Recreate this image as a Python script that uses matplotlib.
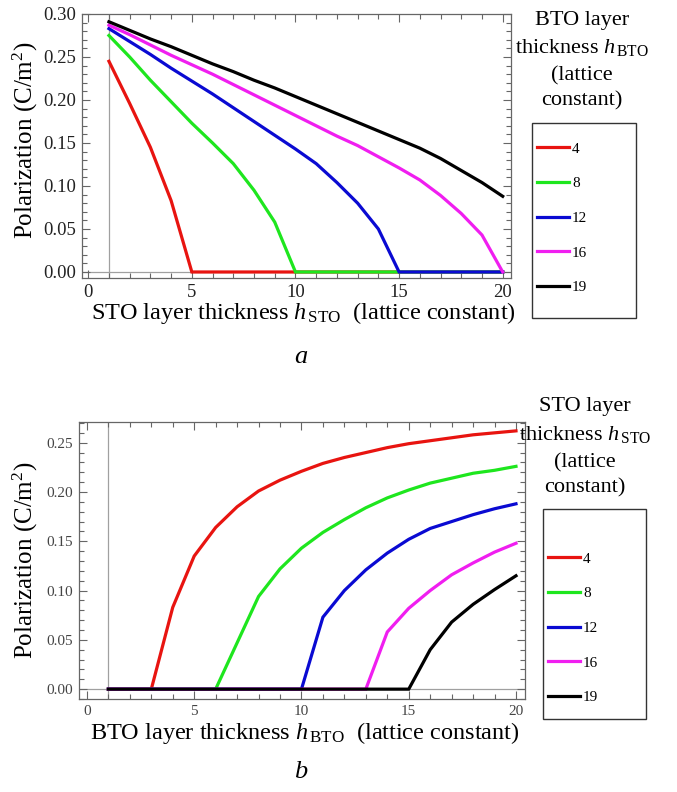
import matplotlib
matplotlib.use('Agg')
import matplotlib.pyplot as plt
from matplotlib.ticker import MultipleLocator, FormatStrFormatter
from matplotlib.patches import Rectangle

plt.rcParams['font.family'] = ['Liberation Serif', 'DejaVu Serif']
plt.rcParams['mathtext.fontset'] = 'custom'
plt.rcParams['mathtext.rm'] = 'Liberation Serif'
plt.rcParams['mathtext.it'] = 'Liberation Serif:italic'

# thickness in lattice constants
thick = list(range(1, 21))

# panel a: P vs STO thickness, one curve per BTO thickness
bto_labels = ['4', '8', '12', '16', '19']
pa_4 = [0.245, 0.196, 0.145, 0.083, 0, 0, 0, 0, 0, 0, 0, 0, 0, 0, 0, 0, 0, 0, 0, 0]
pa_8 = [0.275, 0.250, 0.223, 0.198, 0.173, 0.150, 0.126, 0.095, 0.058, 0,
        0, 0, 0, 0, 0, 0, 0, 0, 0, 0]
pa_12 = [0.283, 0.268, 0.253, 0.237, 0.222, 0.207, 0.191, 0.175, 0.159, 0.143,
         0.126, 0.104, 0.080, 0.050, 0, 0, 0, 0, 0, 0]
pa_16 = [0.287, 0.276, 0.264, 0.252, 0.241, 0.230, 0.218, 0.206, 0.194, 0.182,
         0.170, 0.158, 0.147, 0.134, 0.121, 0.107, 0.089, 0.068, 0.043, 0]
pa_19 = [0.291, 0.281, 0.271, 0.262, 0.252, 0.242, 0.233, 0.223, 0.214, 0.204,
         0.194, 0.184, 0.174, 0.164, 0.154, 0.144, 0.132, 0.118, 0.104, 0.088]

# panel b: P vs BTO thickness, one curve per STO thickness
sto_labels = ['4', '8', '12', '16', '19']
pb_4 = [0, 0, 0, 0.083, 0.135, 0.164, 0.185, 0.201, 0.212, 0.221,
        0.229, 0.235, 0.240, 0.245, 0.249, 0.252, 0.255, 0.258, 0.260, 0.262]
pb_8 = [0, 0, 0, 0, 0, 0, 0.047, 0.094, 0.122, 0.143,
        0.159, 0.172, 0.184, 0.194, 0.202, 0.209, 0.214, 0.219, 0.222, 0.226]
pb_12 = [0, 0, 0, 0, 0, 0, 0, 0, 0, 0,
         0.073, 0.100, 0.121, 0.138, 0.152, 0.163, 0.170, 0.177, 0.183, 0.188]
pb_16 = [0, 0, 0, 0, 0, 0, 0, 0, 0, 0,
         0, 0, 0, 0.058, 0.082, 0.100, 0.116, 0.128, 0.139, 0.148]
pb_19 = [0, 0, 0, 0, 0, 0, 0, 0, 0, 0,
         0, 0, 0, 0, 0, 0.040, 0.068, 0.086, 0.101, 0.115]

colors = ['#e81410', '#1ee61e', '#0a0ad2', '#f01ef0', '#000000']

W, H = 677, 792
fig = plt.figure(figsize=(W / 100, H / 100), dpi=100)


def px_box(l, t, r, b):
    return [l / W, 1 - b / H, (r - l) / W, (b - t) / H]


def style_axes(ax, xlim, ylim, tick_fs, tick_col):
    ax.set_xlim(*xlim)
    ax.set_ylim(*ylim)
    ax.axvline(1, color='#a0a0a0', lw=0.9, zorder=0)
    ax.axhline(0, color='#a0a0a0', lw=0.9, zorder=0)
    ax.xaxis.set_major_locator(MultipleLocator(5))
    ax.xaxis.set_minor_locator(MultipleLocator(1))
    ax.yaxis.set_major_locator(MultipleLocator(0.05))
    ax.yaxis.set_minor_locator(MultipleLocator(0.01))
    ax.yaxis.set_major_formatter(FormatStrFormatter('%.2f'))
    ax.tick_params(which='both', direction='in', top=True, right=True,
                   color='#666666', width=0.8)
    ax.tick_params(which='major', length=6, labelsize=tick_fs, labelcolor=tick_col,
                   pad=4)
    ax.tick_params(which='minor', length=3.5)
    for s in ax.spines.values():
        s.set_color('#666666')
        s.set_linewidth(0.9)


def legend_box(handles, labels, box, first_y, title_lines, title_x):
    l, t, r, b = box
    fig.add_artist(Rectangle((l / W, 1 - b / H), (r - l) / W, (b - t) / H,
                             transform=fig.transFigure, fill=False,
                             edgecolor='#333333', lw=1.0))
    fig.legend(handles, labels, loc='upper left',
               bbox_to_anchor=((l + 5) / W, 1 - (first_y - 7) / H),
               frameon=False, fontsize=11, handlelength=2.1,
               handletextpad=0.2, labelspacing=1.37, borderpad=0,
               borderaxespad=0)
    for txt, y in title_lines:
        fig.text(title_x, 1 - y / H, txt, ha='center', va='center', fontsize=16)


# ---- panel a ----
axa = fig.add_axes(px_box(82, 14, 511, 278))
lines_a = []
for ys, c in zip([pa_4, pa_8, pa_12, pa_16, pa_19], colors):
    ln, = axa.plot(thick, ys, color=c, lw=2.3, solid_joinstyle='miter')
    lines_a.append(ln)
style_axes(axa, (-0.3, 20.4), (-0.007, 0.30), 13.5, '#222222')
axa.set_ylabel('Polarization (C/m$^2$)', fontsize=18)
axa.yaxis.set_label_coords(-0.097, 0.52)
axa.set_xlabel(r'STO layer thickness $h_{\,\mathrm{STO}}$  (lattice constant)',
               fontsize=17.5, labelpad=2)
axa.xaxis.set_label_coords(0.515, -0.085)
fig.text(301 / W, 1 - 357 / H, 'a', ha='center', va='center', fontsize=19,
         style='italic')
legend_box(lines_a, bto_labels, (532, 123, 636, 318), 149,
           [('BTO layer', 20), (r'thickness $h_{\,\mathrm{BTO}}$', 48),
            ('(lattice', 76), ('constant)', 101)], 582 / W)

# ---- panel b ----
axb = fig.add_axes(px_box(79, 422, 525, 699))
lines_b = []
for ys, c in zip([pb_4, pb_8, pb_12, pb_16, pb_19], colors):
    ln, = axb.plot(thick, ys, color=c, lw=2.3, solid_joinstyle='miter')
    lines_b.append(ln)
style_axes(axb, (-0.37, 20.42), (-0.010, 0.271), 11, '#444444')
axb.set_ylabel('Polarization (C/m$^2$)', fontsize=18, labelpad=5)
axb.set_xlabel(r'BTO layer thickness $h_{\,\mathrm{BTO}}$  (lattice constant)',
               fontsize=17.5, labelpad=2)
axb.xaxis.set_label_coords(0.505, -0.075)
fig.text(301 / W, 1 - 772 / H, 'b', ha='center', va='center', fontsize=19,
         style='italic')
legend_box(lines_b, sto_labels, (543, 509, 646, 719), 559,
           [('STO layer', 407), (r'thickness $h_{\,\mathrm{STO}}$', 435),
            ('(lattice', 463), ('constant)', 488)], 585 / W)

fig.savefig('out.png', dpi=100)
